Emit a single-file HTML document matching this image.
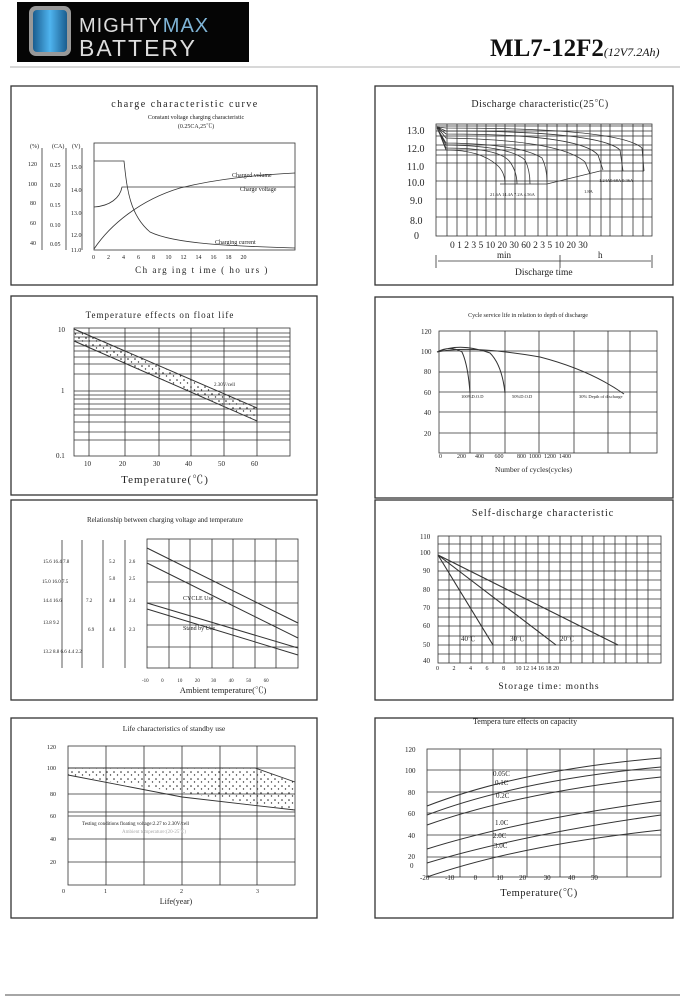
<!DOCTYPE html>
<html><head><meta charset="utf-8"><style>
html,body{margin:0;padding:0;background:#fff}
svg{display:block}
text{font-family:"Liberation Serif","Noto Serif CJK SC",serif;fill:#222;white-space:pre}
.t{font-size:10px;letter-spacing:1.5px}
.s{font-size:6px}
.k{font-size:7px}
</style></head><body>
<svg width="684" height="1000" viewBox="0 0 684 1000" xmlns="http://www.w3.org/2000/svg" xml:space="preserve">
<defs>
<linearGradient id="bt" x1="0" x2="1"><stop offset="0" stop-color="#1a5d8f"/><stop offset=".5" stop-color="#4fb4ef"/><stop offset="1" stop-color="#1a5d8f"/></linearGradient>
<pattern id="dots" width="7" height="7" patternUnits="userSpaceOnUse"><circle cx="2" cy="2" r=".8" fill="#222"/><circle cx="5.5" cy="5" r=".7" fill="#333"/></pattern>
</defs>
<rect x="17" y="2" width="232" height="60" fill="#050505"/>
<rect x="29" y="6" width="42" height="50" rx="7" fill="#999"/>
<rect x="33" y="10" width="34" height="42" rx="4" fill="url(#bt)"/>
<text x="79" y="32" style="font-family:'Liberation Sans',sans-serif;font-size:20px;fill:#ddd;letter-spacing:1px">MIGHTY<tspan style="fill:#7fb4d6">MAX</tspan></text>
<text x="79" y="56" style="font-family:'Liberation Sans',sans-serif;font-size:23px;fill:#ddd;letter-spacing:2px">BATTERY</text>
<text x="490" y="56" style="font-size:25px;font-weight:bold;fill:#111">ML7-12F2<tspan style="font-size:12px;font-style:italic;font-weight:normal">(12V7.2Ah)</tspan></text>
<line x1="10" y1="67" x2="680" y2="67" stroke="#ccc" stroke-width="1.5"/>
<line x1="5" y1="995" x2="680" y2="995" stroke="#888" stroke-width="1.5"/>

<g fill="none" stroke="#333" stroke-width="1.3">
<rect x="11" y="86" width="306" height="199"/>
<rect x="375" y="86" width="298" height="199"/>
<rect x="11" y="296" width="306" height="199"/>
<rect x="375" y="297" width="298" height="201"/>
<rect x="11" y="500" width="306" height="200"/>
<rect x="375" y="500" width="298" height="200"/>
<rect x="11" y="718" width="306" height="200"/>
<rect x="375" y="718" width="298" height="200"/>
</g>

<!-- Panel 1 -->
<text x="185" y="107" class="t" text-anchor="middle">charge characteristic curve</text>
<text x="196" y="119" class="s" text-anchor="middle">Constant voltage charging characteristic</text>
<text x="196" y="128" class="s" text-anchor="middle">(0.25CA,25℃)</text>
<g stroke="#333" stroke-width="0.8" fill="none">
<rect x="94" y="143" width="201" height="107"/>
<line x1="42" y1="148" x2="42" y2="250"/><line x1="66" y1="148" x2="66" y2="250"/><line x1="82" y1="148" x2="82" y2="250"/>
<path d="M94 161 H124 C127 190 130 215 150 232 C175 244 230 246 295 248"/>
<path d="M94 207 C110 206 120 198 122 187 H295"/>
<path d="M94 249 C110 225 140 200 180 188 C220 178 260 175 295 173"/>
</g>
<g class="s"><text x="30" y="148">(%)</text><text x="52" y="148">(CA)</text><text x="72" y="148">(V)</text>
<text x="28" y="166">120</text><text x="50" y="167">0.25</text><text x="71" y="169">15.0</text>
<text x="28" y="186">100</text><text x="50" y="187">0.20</text><text x="71" y="192">14.0</text>
<text x="30" y="205">80</text><text x="50" y="207">0.15</text><text x="71" y="215">13.0</text>
<text x="30" y="225">60</text><text x="50" y="227">0.10</text><text x="71" y="237">12.0</text>
<text x="30" y="245">40</text><text x="50" y="246">0.05</text><text x="71" y="252">11.0</text>
<text x="232" y="177">Charged volume</text><text x="240" y="191">Charge voltage</text><text x="215" y="244">Charging current</text>
<text x="92" y="259">0        2        4        6        8       10      12      14      16      18      20</text></g>
<text x="202" y="273" style="font-size:9px;letter-spacing:1.5px" text-anchor="middle">Ch arg ing t ime ( ho urs )</text>

<!-- Panel 2 -->
<text x="540" y="107" class="t" style="letter-spacing:.5px" text-anchor="middle">Discharge characteristic(25℃)</text>
<g stroke="#333" stroke-width="0.8" fill="none">
<rect x="436" y="124" width="216" height="112"/>
<path d="M436 126H652M436 145H652M436 163H652M436 181H652M436 199H652M436 217H652M436 131H652M436 136H652M436 150H652M436 155H652"/>
<path d="M447 124V236M457 124V236M467 124V236M477 124V236M486 124V236M496 124V236M505 124V236M515 124V236M525 124V236M538 124V236M547 124V236M557 124V236M567 124V236M577 124V236M590 124V236M601 124V236M610 124V236M622 124V236M633 124V236M643 124V236"/>
<path d="M437 127 L446 150 Q480 150 497 165 Q505 172 505 184 H520 M437 128 L446 148 Q500 148 510 162 Q517 172 517 184 M437 128 L446 145 Q510 146 525 160 Q530 170 530 184 M437 128 L446 143 Q520 144 542 158 Q547 168 547 182 M437 127 L446 138 Q560 140 585 162 L590 174 M437 127 L446 134 Q580 134 598 155 L603 170 M437 127 L446 131 Q600 131 620 150 L623 171 M437 127 L446 128 Q620 128 642 148 L644 171 M500 184H547 L600 171 H644"/>
<path d="M436 255V268M652 255V268M560 255V268M438 261H651"/>
</g>
<g style="font-size:10px"><text x="407" y="134">13.0</text><text x="407" y="152">12.0</text><text x="407" y="170">11.0</text><text x="407" y="186">10.0</text><text x="410" y="204">9.0</text><text x="410" y="224">8.0</text><text x="414" y="239">0</text>
<text x="450" y="248" style="font-size:9.5px">0 1 2 3 5 10 20 30 60 2 3 5 10 20 30</text>
<text x="497" y="258" style="font-size:9px">min</text><text x="598" y="258" style="font-size:9px">h</text>
<text x="515" y="275" style="font-size:9.5px">Discharge time</text></g>
<g style="font-size:4.5px"><text x="490" y="196">21.6A 14.4A 7.2A 4.56A</text><text x="584" y="193">1.8A</text><text x="599" y="182">1.24A0.68A 0.36A</text></g>

<!-- Panel 3 -->
<text x="160" y="318" class="t" style="font-size:9px;letter-spacing:1px" text-anchor="middle">Temperature effects on float life</text>
<g stroke="#333" stroke-width="0.8" fill="none">
<rect x="74" y="328" width="216" height="128"/>
<path d="M74 333H290M74 337H290M74 341H290M74 346H290M74 351H290M74 357H290M74 364H290M74 374H290M74 391H290M74 395H290M74 399H290M74 404H290M74 409H290M74 415H290M74 422H290M74 432H290M74 440H290"/>
<path d="M89 328V456M125 328V456M159 328V456M191 328V456M224 328V456M257 328V456"/>
<path d="M74 329 L257 408 M74 341 L257 421 M257 408V421" stroke-width="1"/>
</g>
<polygon points="74,329 257,408 257,421 74,341" fill="url(#dots)"/>
<g class="k"><text x="58" y="332">10</text><text x="61" y="393">1</text><text x="56" y="458">0.1</text>
<text x="84" y="466">10</text><text x="119" y="466">20</text><text x="153" y="466">30</text><text x="185" y="466">40</text><text x="218" y="466">50</text><text x="251" y="466">60</text>
<text x="214" y="386" style="font-size:5px">2.30V/cell</text></g>
<text x="165" y="483" style="font-size:11px;letter-spacing:1px" text-anchor="middle">Temperature(℃)</text>

<!-- Panel 4 -->
<text x="528" y="317" class="s" text-anchor="middle">Cycle service life in relation to depth of discharge</text>
<g stroke="#333" stroke-width="0.8" fill="none">
<rect x="439" y="331" width="218" height="122"/>
<path d="M439 351H657M439 372H657M439 392H657M439 412H657M439 433H657M470 331V453M505 331V453M539 331V453M574 331V453M608 331V453M630 331V453"/>
<path d="M437 352 Q450 345 462 352 Q468 365 470 393 M437 352 Q460 342 490 353 Q502 365 505 393 M437 352 Q470 345 540 357 Q590 370 624 394" stroke-width="1"/>
</g>
<g class="k"><text x="421" y="334">120</text><text x="421" y="354">100</text><text x="424" y="374">80</text><text x="424" y="395">60</text><text x="424" y="415">40</text><text x="424" y="436">20</text>
<text x="439" y="458" style="font-size:6px">0          200      400       600         800  1000  1200  1400</text>
<text x="461" y="398" style="font-size:4.5px">100%D.O.D</text><text x="512" y="398" style="font-size:4.5px">50%D.O.D</text><text x="579" y="398" style="font-size:4.5px">30% Depth of discharge</text>
<text x="495" y="472" style="font-size:7.5px">Number of cycles(cycles)</text></g>

<!-- Panel 5 -->
<text x="165" y="522" style="font-size:7px" text-anchor="middle">Relationship between charging voltage and temperature</text>
<g stroke="#333" stroke-width="0.8" fill="none">
<rect x="147" y="539" width="151" height="129"/>
<path d="M147 561H298M147 582H298M147 603H298M147 625H298M147 647H298M169 539V668M190 539V668M212 539V668M233 539V668M255 539V668M276 539V668"/>
<path d="M62 540V668M82 540V668M103 540V668M125 540V668" />
<path d="M147 548L298 623M147 563L298 638M147 603L298 648M147 609L298 655" stroke-width="1"/>
</g>
<g style="font-size:5px"><text x="43" y="563">15.6 16.4 7.8</text><text x="109" y="563">5.2</text><text x="129" y="563">2.6</text>
<text x="42" y="583">15.0 16.0 7.5</text><text x="109" y="580">5.0</text><text x="129" y="580">2.5</text>
<text x="43" y="602">14.4 16.6</text><text x="86" y="602">7.2</text><text x="109" y="602">4.8</text><text x="129" y="602">2.4</text>
<text x="43" y="624">13.8 9.2</text><text x="88" y="631">6.9</text><text x="109" y="631">4.6</text><text x="129" y="631">2.3</text>
<text x="43" y="653">13.2 8.8 6.6 4.4 2.2</text>
<text x="183" y="600" style="font-size:6px">CYCLE Use</text><text x="183" y="630" style="font-size:6px">Stand by Use</text>
<text x="142" y="682">-10          0           10          20         30          40          50          60</text></g>
<text x="223" y="693" style="font-size:8.5px" text-anchor="middle">Ambient temperature(℃)</text>

<!-- Panel 6 -->
<text x="543" y="516" class="t" style="letter-spacing:1px" text-anchor="middle">Self-discharge characteristic</text>
<g stroke="#333" stroke-width="0.8" fill="none">
<rect x="438" y="536" width="223" height="127"/>
<path d="M438 553H661M438 571H661M438 590H661M438 608H661M438 626H661M438 645H661M438 544H661M438 562H661M438 580H661M438 599H661M438 617H661M438 636H661M438 654H661"/>
<path d="M449 536V663M460 536V663M471 536V663M482 536V663M493 536V663M504 536V663M515 536V663M526 536V663M538 536V663M549 536V663M560 536V663M571 536V663M582 536V663M593 536V663M604 536V663M615 536V663M626 536V663M637 536V663M648 536V663"/>
<path d="M438 555L493 645M438 555L556 645M438 555L618 645" stroke-width="1.1"/>
</g>
<g class="k"><text x="420" y="539">110</text><text x="420" y="555">100</text><text x="423" y="573">90</text><text x="423" y="592">80</text><text x="423" y="610">70</text><text x="423" y="628">60</text><text x="423" y="647">50</text><text x="423" y="663">40</text>
<text x="436" y="670" style="font-size:6px">0         2         4         6         8       10 12 14 16 18 20</text>
<text x="461" y="641">40℃</text><text x="510" y="641">30℃</text><text x="560" y="641">20℃</text></g>
<text x="549" y="689" style="font-size:9.5px;letter-spacing:1px" text-anchor="middle">Storage time: months</text>

<!-- Panel 7 -->
<text x="174" y="731" class="k" style="font-size:7.5px" text-anchor="middle">Life characteristics of standby use</text>
<g stroke="#333" stroke-width="0.8" fill="none">
<rect x="68" y="746" width="227" height="139"/>
<path d="M68 768H295M68 794H295M68 812H295M68 816H295M68 839H295M68 862H295M106 746V885M144 746V885M182 746V885M220 746V885M257 746V885"/>
</g>
<polygon points="68,768 255,768 295,782 295,810 68,775" fill="url(#dots)"/>
<path d="M68 775 L182 797 L295 810 M68 768 L255 768 L295 782" stroke="#333" fill="none" stroke-width=".9"/>
<g class="k" style="font-size:6px"><text x="47" y="749">120</text><text x="47" y="770">100</text><text x="50" y="796">80</text><text x="50" y="818">60</text><text x="50" y="841">40</text><text x="50" y="864">20</text>
<text x="62" y="893">0</text><text x="104" y="893">1</text><text x="180" y="893">2</text><text x="256" y="893">3</text>
<text x="82" y="825" style="font-size:5px">Testing conditions floating voltage:2.27 to 2.30V/cell</text>
<text x="122" y="833" style="font-size:5px;fill:#aaa">Ambient temperature:(20-25℃)</text></g>
<text x="176" y="904" style="font-size:8px" text-anchor="middle">Life(year)</text>

<!-- Panel 8 -->
<text x="525" y="724" class="k" style="font-size:8px" text-anchor="middle">Tempera ture effects on capacity</text>
<g stroke="#333" stroke-width="0.8" fill="none">
<rect x="427" y="749" width="234" height="128"/>
<path d="M427 770H661M427 792H661M427 813H661M427 835H661M427 857H661M460 749V877M493 749V877M527 749V877M560 749V877M594 749V877M627 749V877"/>
<path d="M427 806 Q520 770 661 758 M427 815 Q520 780 661 767 M427 825 Q520 792 661 777 M427 849 Q520 820 661 801 M427 863 Q520 835 661 815 M427 877 Q520 845 661 830" stroke-width="1"/>
</g>
<g class="k"><text x="405" y="752">120</text><text x="405" y="773">100</text><text x="408" y="795">80</text><text x="408" y="816">60</text><text x="408" y="838">40</text><text x="408" y="859">20</text><text x="410" y="868">0</text>
<text x="420" y="880">-20         -10           0           10         20          30          40         50</text>
<text x="493" y="776">0.05C</text><text x="495" y="785">0.1C</text><text x="496" y="798">0.2C</text><text x="495" y="825">1.0C</text><text x="493" y="838">2.0C</text><text x="494" y="848">3.0C</text></g>
<text x="539" y="896" style="font-size:10.5px;letter-spacing:.5px" text-anchor="middle">Temperature(℃)</text>
</svg>
</body></html>
